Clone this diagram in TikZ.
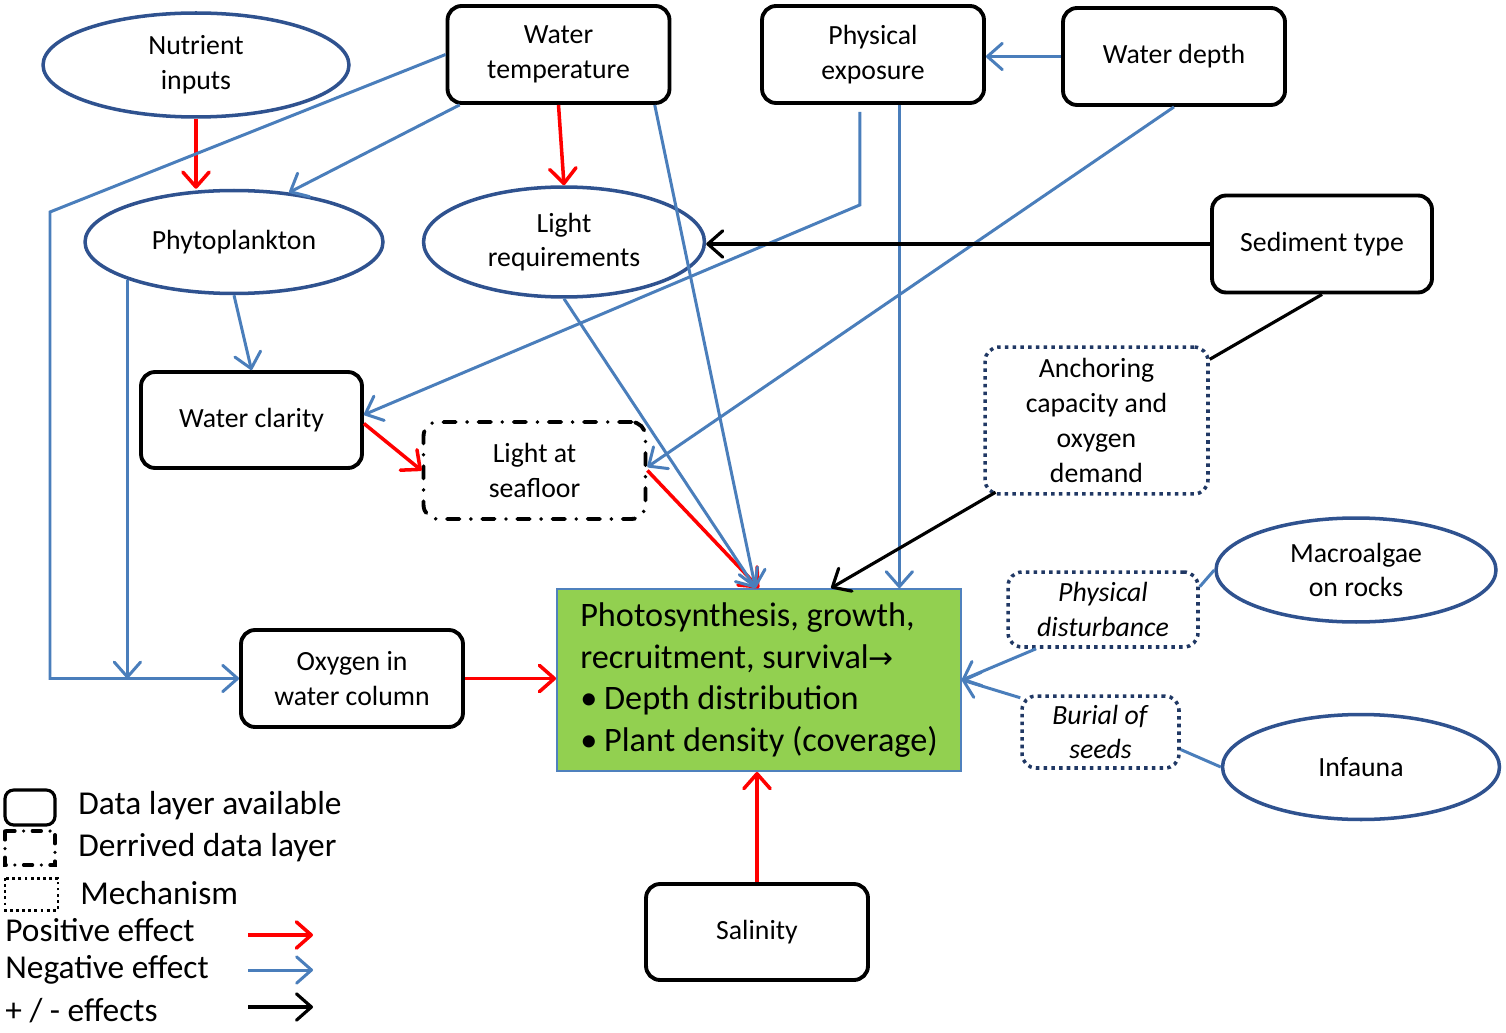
\documentclass[tikz,border=0pt]{standalone}
\usepackage{fontspec}
\setmainfont{Carlito}
\newfontfamily\arrowfont{DejaVu Sans}
\usetikzlibrary{arrows.meta,shapes.geometric}
\definecolor{posred}{HTML}{FF0000}
\definecolor{negblue}{HTML}{4A7EBB}
\definecolor{ovalblue}{HTML}{2F528F}
\definecolor{dotblue}{HTML}{203864}
\definecolor{leafgreen}{HTML}{92D050}
\definecolor{edgeblue}{HTML}{4F81BD}
\begin{document}
\begin{tikzpicture}[x=0.02cm,y=-0.02cm,font=\fontsize{15.8}{19.8}\selectfont,
        datalayer/.style={draw,line width=2.2pt,rounded corners=8pt,align=center,inner sep=2pt,minimum width=4.44cm,minimum height=1.94cm},
        derivedlayer/.style={datalayer,line cap=round,dash pattern=on 7pt off 6.5pt on 0pt off 6.5pt},
        mechanism/.style={draw=dotblue,line width=2pt,dash pattern=on 2pt off 2.4pt,rounded corners=8pt,align=center,inner sep=2pt},
        driver/.style={ellipse,draw=ovalblue,line width=2pt,align=center,inner sep=0pt},
        posfx/.style={posred,line width=2pt,-{Straight Barb[length=8.5pt,width=15pt,round]}},
        negfx/.style={negblue,line width=1.7pt,-{Straight Barb[length=8.5pt,width=15pt,round]}},
        pmfx/.style={black,line width=1.8pt,-{Straight Barb[length=8.5pt,width=15pt,round]}},
        plainlink/.style={negblue,line width=1.7pt}]
    \useasboundingbox (0,0) rectangle (1506,1033);
    \node[driver,minimum width=6.12cm,minimum height=2.08cm] (nutr) at (196,65) {Nutrient\\inputs};
    \node[datalayer] (wtemp) at (558.5,54.5) {Water\\temperature};
    \node[datalayer] (pexp) at (873,54.5) {Physical\\exposure};
    \node[datalayer] (wdep) at (1174,56.5) {Water depth};
    \node[driver,minimum width=5.96cm,minimum height=2.06cm] (phyto) at (234,242) {Phytoplankton};
    \node[driver,minimum width=5.62cm,minimum height=2.2cm] (lreq) at (564,242) {Light\\requirements};
    \node[datalayer,minimum width=4.4cm] (sed) at (1322,244) {Sediment type};
    \node[datalayer,minimum width=4.42cm,minimum height=1.92cm] (wcl) at (251.5,420) {Water clarity};
    \node[derivedlayer] (lsf) at (534.5,470.5) {Light at\\seafloor};
    \node[mechanism,minimum width=4.46cm,minimum height=2.94cm] (anch) at (1096.5,420.5) {Anchoring\\capacity and\\oxygen\\demand};
    \node[draw=edgeblue,line width=1.1pt,fill=leafgreen,minimum width=8.08cm,minimum height=3.64cm,align=left,
        font=\fontsize{19.5}{23.6}\selectfont] (plant) at (759,680)
        {Photosynthesis, growth,\\recruitment, survival{\arrowfont\fontsize{17}{17}\selectfont →}\\•\hspace{0.2em}Depth distribution\\•\hspace{0.2em}Plant density (coverage)};
    \node[datalayer] (oxy) at (352,678.5) {Oxygen in\\water column};
    \node[driver,minimum width=5.6cm,minimum height=2.08cm] (macro) at (1356,570) {Macroalgae\\on rocks};
    \node[mechanism,minimum width=3.8cm,minimum height=1.5cm] (dist) at (1103,609.5) {\textit{Physical}\\\textit{disturbance}};
    \node[mechanism,minimum width=3.14cm,minimum height=1.44cm] (burial) at (1100.5,732) {\textit{Burial of}\\\textit{seeds}};
    \node[driver,minimum width=5.54cm,minimum height=2.1cm] (infauna) at (1361,767) {Infauna};
    \node[datalayer,minimum height=1.92cm] (sal) at (757,932) {Salinity};

    \draw[posfx] (nutr.south) -- (nutr.south |- phyto.north);
    \draw[posfx] (wtemp.south) -- (lreq.north);
    \draw[posfx] ([yshift=-2pt]wcl.east) -- (lsf.west);
    \draw[posfx] (lsf.east) -- (plant.north);
    \draw[posfx] (oxy.east) -- (oxy.east -| plant.west);
    \draw[posfx] (sal.north) -- (sal.north |- plant.south);

    \draw[negfx] (wtemp.west) -- (50,212) |- (oxy.west);
    \draw[negfx] (phyto.south west) -- (phyto.south west |- oxy.west);
    \draw[negfx] ([xshift=8pt]wtemp.south west) -- (phyto.42);
    \draw[negfx] ([xshift=-9.5pt]wtemp.south east) -- ([xshift=-2pt]plant.north);
    \draw[negfx] (phyto.south) -- (wcl.north);
    \draw[negfx] ([xshift=-7.5pt,yshift=-4pt]pexp.south) -- ++(0,93) -- ([yshift=3pt]wcl.east);
    \draw[negfx] ([xshift=15pt]pexp.south) -- ([xshift=15pt]pexp.south |- plant.north);
    \draw[negfx] (wdep.west) -- (wdep.west -| pexp.east);
    \draw[negfx] (wdep.south) -- ([yshift=2pt]lsf.east);
    \draw[negfx] (lreq.south) -- ([xshift=-2pt]plant.north);
    \draw[negfx] ([xshift=17pt]dist.south west) -- (plant.east);
    \draw[negfx] ([yshift=-2pt]burial.north west) -- (plant.east);
    \draw[plainlink] (macro.west) -- ([yshift=13pt]dist.east);
    \draw[plainlink] (infauna.west) -- ([yshift=-10pt]burial.east);

    \draw[pmfx] (sed.west) -- (sed.west -| lreq.east);
    \draw[black,line width=1.8pt] (sed.south) -- ([yshift=-8pt]anch.north east);
    \draw[pmfx] ([xshift=7pt,yshift=2pt]anch.south west) -- ([xshift=41pt]plant.north);

    \begin{scope}[font=\fontsize{19}{23}\selectfont]
        \draw[line width=1.8pt,rounded corners=5pt] (5,790) rectangle (55,825);
        \draw[line width=2pt,line cap=round,dash pattern=on 5pt off 5pt on 0pt off 5pt] (5,831) rectangle (55,865);
        \draw[line width=1.7pt,dash pattern=on 1.6pt off 1.9pt] (5,878) rectangle (58,910);
        \node[anchor=west,inner sep=0pt] (lgdata) at (78,806) {Data layer available};
        \node[anchor=west,inner sep=0pt] (lgderived) at (78,848) {Derrived data layer};
        \node[anchor=west,inner sep=0pt] (lgmech) at (80,893) {Mechanism};
        \node[anchor=west,inner sep=0pt] (lgpos) at (5,930) {Positive effect};
        \node[anchor=west,inner sep=0pt] (lgneg) at (5,970) {Negative effect};
        \node[anchor=west,inner sep=0pt] (lgpm) at (5,1011) {+ / - effects};
        \foreach \y/\fx in {935/posfx,970/negfx,1007/pmfx} {
            \draw[\fx] (248,\y) -- ++(65,0);
        }
    \end{scope}
\end{tikzpicture}
\end{document}
